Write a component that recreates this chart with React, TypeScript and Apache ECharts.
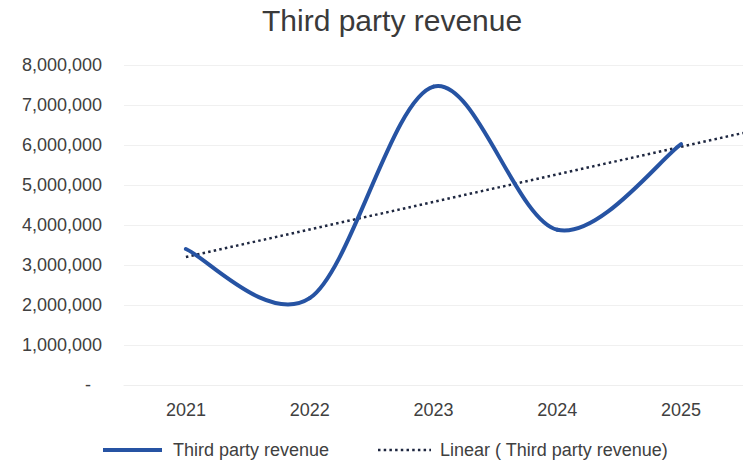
import React, { useEffect, useRef } from "react";
import * as echarts from "echarts";

const categories = ["2021", "2022", "2023", "2024", "2025"];
const revenue = [3400000, 2170000, 7460000, 3880000, 6020000];
// Linear trend line: [category position, value]
const trendPositions = [0, 4.5];
const trendValues = [3200000, 6300000];
const yTicks = { min: 0, max: 8000000, interval: 1000000 };

const SERIES_NAME = "Third party revenue";
const TREND_NAME = "Linear ( Third party revenue)";

const LINE_COLOR = "#2653a3";
const TREND_COLOR = "#1e2740";

export default function App() {
  const ref = useRef<HTMLDivElement>(null);
  useEffect(() => {
    if (!ref.current) return;
    const chart = echarts.init(ref.current, undefined, { renderer: "svg" });
    const font = "'Liberation Sans', Arial, sans-serif";
    const fs = 18;

    // Smooth (Catmull-Rom style) curve segments between consecutive data points,
    // positioned through the axes with api.coord.
    const renderSmooth = (params: any, api: any) => {
      const i = params.dataIndex;
      if (i === 0) return null;
      const n = revenue.length;
      const pt = (k: number) => api.coord([k, revenue[Math.max(0, Math.min(n - 1, k))]]);
      const p0 = pt(i - 1);
      const p1 = pt(i);
      const pPrev = i - 2 >= 0 ? pt(i - 2) : p0;
      const pNext = i + 1 <= n - 1 ? pt(i + 1) : p1;
      const f = 1 / 6;
      const c1 = [p0[0] + (p1[0] - pPrev[0]) * f, p0[1] + (p1[1] - pPrev[1]) * f];
      const c2 = [p1[0] - (pNext[0] - p0[0]) * f, p1[1] - (pNext[1] - p0[1]) * f];
      return {
        type: "bezierCurve",
        shape: {
          x1: p0[0], y1: p0[1],
          x2: p1[0], y2: p1[1],
          cpx1: c1[0], cpy1: c1[1],
          cpx2: c2[0], cpy2: c2[1],
        },
        style: { stroke: LINE_COLOR, lineWidth: 4, fill: null, lineCap: "round" },
      };
    };

    chart.setOption({
      animation: false,
      backgroundColor: "#ffffff",
      title: {
        text: "Third party revenue",
        left: 262,
        top: 5,
        padding: 0,
        textStyle: { fontFamily: font, fontSize: 30, fontWeight: "normal", color: "#3a3a3a" },
      },
      graphic: [
        {
          type: "line",
          shape: { x1: 103, y1: 450, x2: 162, y2: 450 },
          style: { stroke: LINE_COLOR, lineWidth: 4 },
        },
        {
          type: "text",
          x: 173,
          y: 450,
          style: {
            text: SERIES_NAME,
            fill: "#404040",
            font: `${fs}px ${font}`,
            textVerticalAlign: "middle",
            verticalAlign: "middle",
          },
        },
        {
          type: "line",
          shape: { x1: 378, y1: 450, x2: 431, y2: 450 },
          style: { stroke: TREND_COLOR, lineWidth: 2.5, lineDash: [2.5, 3.2] },
        },
        {
          type: "text",
          x: 440,
          y: 450,
          style: {
            text: TREND_NAME,
            fill: "#404040",
            font: `${fs}px ${font}`,
            textVerticalAlign: "middle",
            verticalAlign: "middle",
          },
        },
      ],
      grid: { left: 124, right: -13, top: 65, bottom: 78, containLabel: false },
      xAxis: [
        {
          type: "category",
          data: categories,
          boundaryGap: true,
          axisLine: { show: true, lineStyle: { color: "#eeeeee" } },
          axisTick: { show: false },
          axisLabel: { fontFamily: font, fontSize: fs, color: "#404040", margin: 16 },
        },
        {
          type: "value",
          min: -0.5,
          max: 4.5,
          show: false,
        },
      ],
      yAxis: {
        type: "value",
        min: yTicks.min,
        max: yTicks.max,
        interval: yTicks.interval,
        axisLine: { show: false },
        axisTick: { show: false },
        splitLine: { lineStyle: { color: "#f0f0f0", width: 1 } },
        axisLabel: {
          fontFamily: font,
          fontSize: fs,
          color: "#404040",
          margin: 22,
          formatter: (v: number) =>
            v === 0 ? "{d|-}" : v.toLocaleString("en-US"),
          rich: { d: { fontFamily: font, fontSize: fs, color: "#404040", padding: [0, 11, 0, 0] } },
        },
      },
      series: [
        {
          name: SERIES_NAME,
          type: "custom",
          xAxisIndex: 0,
          data: revenue.map((v, i) => [i, v]),
          encode: { x: 0, y: 1 },
          renderItem: renderSmooth,
          z: 3,
        },
        {
          name: TREND_NAME,
          type: "line",
          xAxisIndex: 1,
          data: trendPositions.map((p, i) => [p, trendValues[i]]),
          symbol: "none",
          lineStyle: { color: TREND_COLOR, width: 2.5, type: [2.5, 3.2] },
          itemStyle: { color: TREND_COLOR },
          z: 2,
        },
      ],
    });
    return () => chart.dispose();
  }, []);
  return <div ref={ref} style={{ width: 743, height: 463, position: "absolute", left: 0, top: 0 }} />;
}
